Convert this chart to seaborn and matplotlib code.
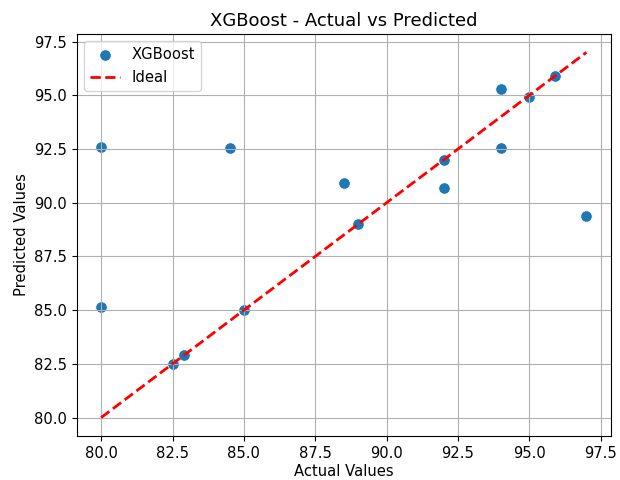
import matplotlib
matplotlib.use("Agg")
import matplotlib.pyplot as plt
import seaborn as sns
import pandas as pd

# Test-set targets and XGBoost predictions
actual = [80.0, 80.0, 84.5, 82.5, 82.9, 85.0, 88.5, 89.0, 92.0, 92.0, 94.0, 94.0, 95.0, 95.9, 97.0]
predicted = [92.6, 85.15, 92.55, 82.5, 82.9, 85.0, 90.9, 89.0, 92.0, 90.7, 95.3, 92.55, 94.9, 95.9, 89.4]

df = pd.DataFrame({"Actual": actual, "Predicted": predicted})

plt.rcParams["font.size"] = 10.6

fig = plt.figure(figsize=(6.2, 4.8), dpi=100)
ax = fig.add_axes([0.124, 0.092, 0.861, 0.837])
sns.scatterplot(data=df, x="Actual", y="Predicted", ax=ax, label="XGBoost",
                color="#1f77b4", s=70)

# Perfect-prediction reference line
lo, hi = min(actual), max(actual)
ax.plot([lo, hi], [lo, hi], color="red", linestyle="--", linewidth=2, label="Ideal")

ax.set_title("XGBoost - Actual vs Predicted", fontsize=13)
ax.set_xlabel("Actual Values", labelpad=2.5)
ax.set_ylabel("Predicted Values")
ax.grid(True)
ax.legend(loc="upper left")

fig.savefig("out.png")
